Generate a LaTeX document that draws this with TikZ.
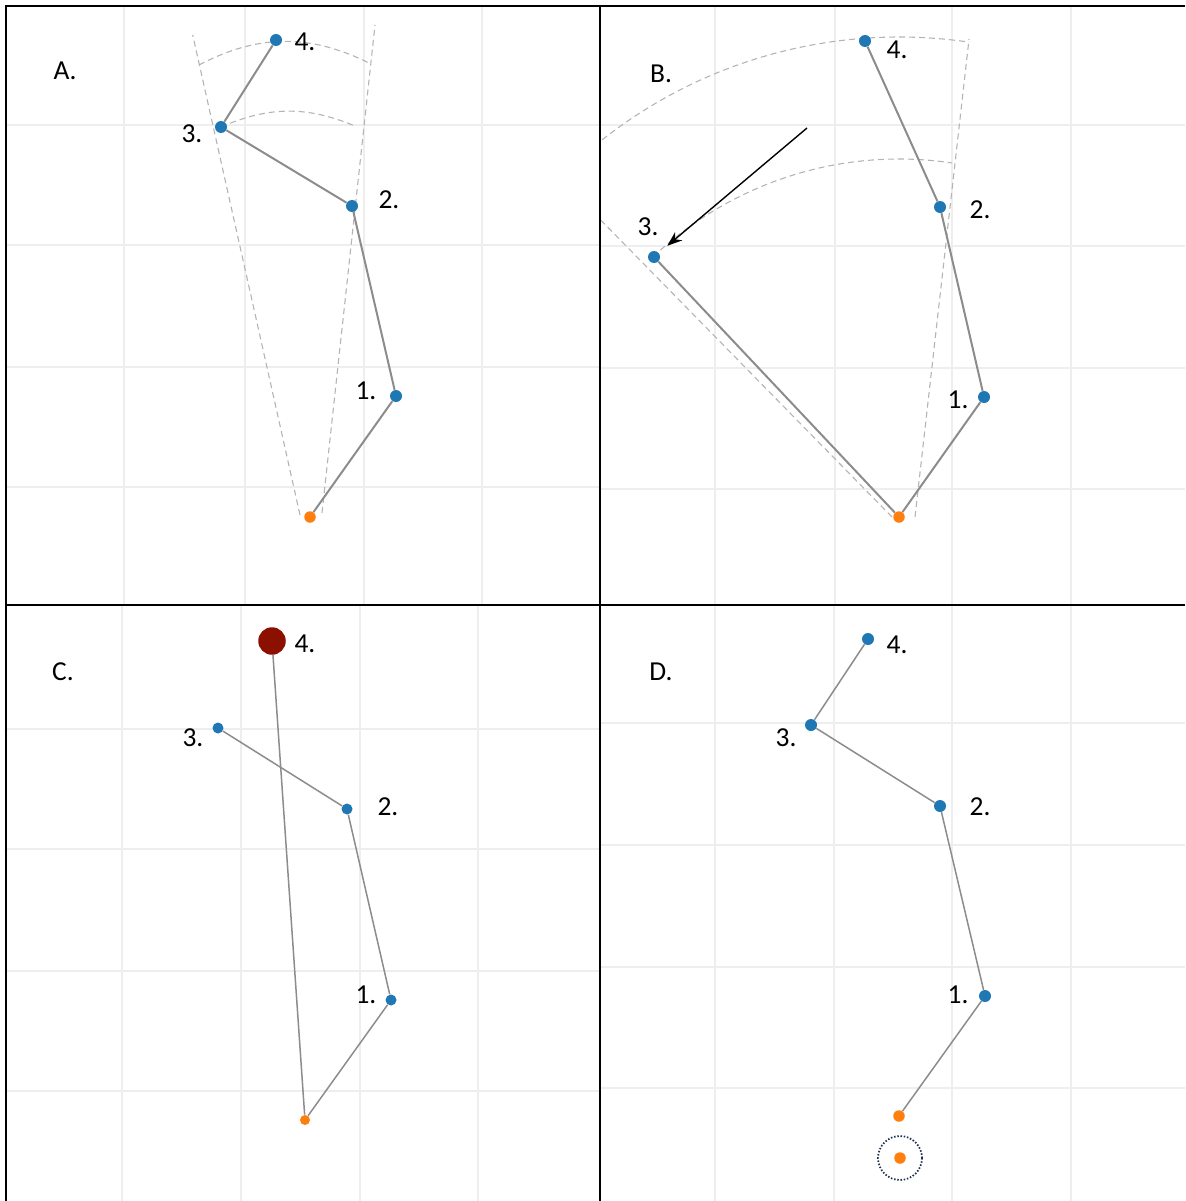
\documentclass[tikz,border=0pt]{standalone}
\usepackage{fontspec}
\setmainfont{Carlito}
\usepackage{xcolor}
\usetikzlibrary{arrows.meta, positioning, backgrounds}

\definecolor{jointblue}{HTML}{1F77B4}
\definecolor{baseorange}{HTML}{FF7F0E}
\definecolor{targetred}{HTML}{8C1000}
\definecolor{linkgray}{HTML}{8C8C8C}
\definecolor{guidegray}{HTML}{B4B4B4}
\definecolor{gridgray}{HTML}{EEEEEE}
\definecolor{ringnavy}{HTML}{1F2D4F}

\begin{document}
\begin{tikzpicture}[
  x=0.2mm, y=-0.2mm,
  joint/.style={circle, fill=jointblue, inner sep=0pt, minimum size=2.4mm},
  basept/.style={circle, fill=baseorange, inner sep=0pt, minimum size=2.3mm},
  targetpt/.style={circle, fill=targetred, inner sep=0pt, minimum size=5.5mm},
  ringmark/.style={circle, draw=ringnavy, line width=0.35mm,
                   dash pattern=on 0.3mm off 0.35mm, inner sep=0pt, minimum size=8.8mm},
  lbl/.style={inner sep=0pt, font=\fontsize{15.6}{18}\selectfont},
  link/.style={linkgray, line width=0.4mm},
  guide/.style={guidegray, line width=0.22mm, dash pattern=on 1.2mm off 0.8mm},
  gridline/.style={gridgray, line width=0.5mm},
  panelrule/.style={black, line width=0.4mm},
  hint/.style={-{Stealth[length=3mm, width=2.2mm]}, line width=0.28mm},
]
  \useasboundingbox (0,0) rectangle (1185,1201);

  % A. starting pose
  \node[basept] (a0) at (310,517) {};
  \node[joint] (a1) at (396,396) {};
  \node[joint] (a2) at (352,206) {};
  \node[joint] (a3) at (221,127) {};
  \node[joint] (a4) at (276,40) {};
  \draw[link] (a0) -- (a1) -- (a2) -- (a3) -- (a4);
  \node[lbl] (atag) at (65,71) {A.};
  \node[lbl] (a1t) at (366,391) {1.};
  \node[lbl] (a2t) at (389,200) {2.};
  \node[lbl] (a3t) at (192,134) {3.};
  \node[lbl] (a4t) at (305,42) {4.};

  % B. joint 3 swung out, 4 hangs off 2
  \node[basept] (b0) at (899,517) {};
  \node[joint] (b1) at (984,397) {};
  \node[joint] (b2) at (940,207) {};
  \node[joint] (b3) at (654,257) {};
  \node[joint] (b4) at (865,41) {};
  \draw[link] (b0) -- (b1) -- (b2) -- (b4);
  \draw[link] (b0) -- (b3);
  \coordinate (bcue) at (807,128);
  \draw[hint, shorten >=2.2mm] (bcue) -- (b3);
  \node[lbl] (btag) at (661,74) {B.};
  \node[lbl] (b1t) at (958,400) {1.};
  \node[lbl] (b2t) at (980,210) {2.};
  \node[lbl] (b3t) at (648,227) {3.};
  \node[lbl] (b4t) at (897,50) {4.};

  % C. tip reached straight from the base
  \node[basept, minimum size=2mm] (c0) at (305,1120) {};
  \node[joint, minimum size=2.2mm] (c1) at (391,1000) {};
  \node[joint, minimum size=2.2mm] (c2) at (347,809) {};
  \node[joint, minimum size=2.2mm] (c3) at (218,728) {};
  \node[targetpt] (c4) at (272,641) {};
  \draw[link, line width=0.3mm] (c0) -- (c1) -- (c2) -- (c3);
  \draw[link, line width=0.3mm] (c0) -- (c4);
  \node[lbl] (ctag) at (63,672) {C.};
  \node[lbl] (c1t) at (366,995) {1.};
  \node[lbl] (c2t) at (388,807) {2.};
  \node[lbl] (c3t) at (193,738) {3.};
  \node[lbl] (c4t) at (305,644) {4.};

  % D. base moved, old base ringed
  \node[basept] (d0) at (899,1116) {};
  \node[basept] (d0old) at (900,1158) {};
  \node[ringmark] (dring) at (d0old) {};
  \node[joint] (d1) at (985,996) {};
  \node[joint] (d2) at (940,806) {};
  \node[joint] (d3) at (811,725) {};
  \node[joint] (d4) at (868,639) {};
  \draw[link, line width=0.3mm] (d0) -- (d1) -- (d2) -- (d3) -- (d4);
  \node[lbl] (dtag) at (661,672) {D.};
  \node[lbl] (d1t) at (958,995) {1.};
  \node[lbl] (d2t) at (980,807) {2.};
  \node[lbl] (d3t) at (786,738) {3.};
  \node[lbl] (d4t) at (897,645) {4.};

  \begin{scope}[on background layer]
    % faint plot grids
    \foreach \gx in {124,245,364,482} \draw[gridline] (\gx,6) -- (\gx,605);
    \foreach \gy in {125,245,367,487} \draw[gridline] (6,\gy) -- (600,\gy);
    \foreach \gx in {715,835,952,1071} \draw[gridline] (\gx,6) -- (\gx,605);
    \foreach \gy in {125,246,368,489} \draw[gridline] (600,\gy) -- (1185,\gy);
    \foreach \gx in {122,241,360,478} \draw[gridline] (\gx,605) -- (\gx,1201);
    \foreach \gy in {729,849,971,1091} \draw[gridline] (6,\gy) -- (600,\gy);
    \foreach \gx in {715,834,952,1071} \draw[gridline] (\gx,605) -- (\gx,1201);
    \foreach \gy in {723,845,967,1088} \draw[gridline] (600,\gy) -- (1185,\gy);

    % reach wedge for A
    \draw[guide] ([xshift=-2mm, yshift=0.4mm]a0.center) -- ++(102.6:98.4mm);
    \draw[guide] ([xshift=2.4mm, yshift=0.8mm]a0.center) -- ++(83.8:98.2mm);
    \draw[guide] (199,65) to[bend left=27] (369,63);
    \draw[guide] (a3.center) to[bend left=23] (355,126);

    % reach wedge for B
    \draw[guide] ([xshift=-1.4mm]b0.center) -- ++(134.45:83.2mm);
    \draw[guide] ([xshift=3.2mm]b0.center) -- ++(83.55:96.2mm);
    \draw[guide] ([shift={(128.2:96mm)}]b0.center) arc[start angle=128.2, end angle=81.6, radius=96mm];
    \draw[guide] ([shift={(133.4:71.6mm)}]b0.center) arc[start angle=133.4, end angle=81.5, radius=71.6mm];
  \end{scope}

  % panel rules
  \draw[panelrule] (6,1201) -- (6,6) -- (1185,6);
  \draw[panelrule] (600,6) -- (600,1201);
  \draw[panelrule] (6,605) -- (1185,605);
\end{tikzpicture}
\end{document}
